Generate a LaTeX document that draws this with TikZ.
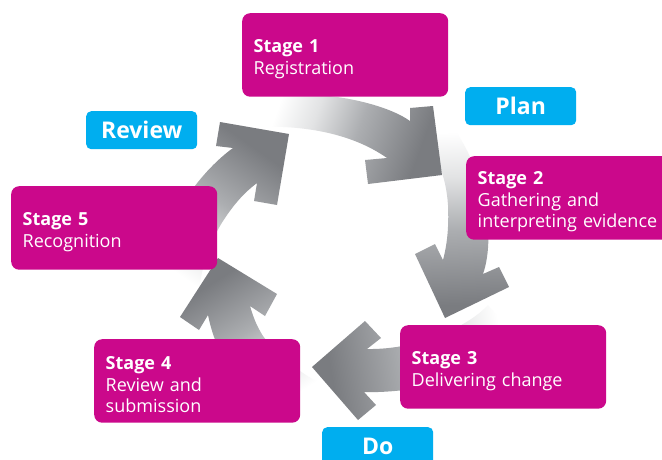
\documentclass[tikz,border=0pt]{standalone}
\usepackage{fontspec}
\setmainfont{Open Sans}
\definecolor{stagemag}{RGB}{203,8,139}
\definecolor{phasecyan}{RGB}{0,174,239}
\definecolor{arrowdark}{RGB}{122,124,128}
\definecolor{arrowmid}{RGB}{172,174,177}
\definecolor{arrowpale}{RGB}{226,227,228}
\pgfdeclarehorizontalshading{ringarrow}{100bp}{color(0bp)=(white); color(26bp)=(white); color(38bp)=(arrowpale); color(52bp)=(arrowmid); color(72bp)=(arrowdark); color(100bp)=(arrowdark)}
\newcommand{\firstline}{\rule{0pt}{21pt}}
\tikzset{
  ringpart/.style={shading=ringarrow},
  stagebox/.style={fill=stagemag, rounded corners=8pt, text=white, anchor=north west,
    minimum width=206pt, minimum height=83.5pt, text width=183pt,
    inner xsep=11.5pt, inner ysep=0pt, align=left,
    font=\fontsize{18}{21.5}\selectfont},
  phasebox/.style={fill=phasecyan, rounded corners=5pt, text=white, anchor=north west,
    minimum width=111pt, minimum height=38pt, inner sep=0pt,
    font=\fontsize{23}{26}\selectfont\bfseries},
}
\begin{document}
\begin{tikzpicture}[x=1pt,y=-1pt]
\useasboundingbox (0,0) rectangle (662,459);
\clip (0,0) rectangle (662,459);
\fill[white] (0,0) rectangle (662,459);

% cycle arrows, each head drawn over the faded tail of the next one
% Stage 5 -> Stage 1
\shade[ringpart, shading angle=55]
  (289,134) -- (220,122) -- (216,146) -- (233,148)
  .. controls (215,161) and (198,180) .. (185,200)
  .. controls (170,225) and (160,255) .. (155,290)
  -- (198,300)
  .. controls (200,270) and (210,240) .. (225,218)
  .. controls (235,203) and (245,192) .. (257,183)
  -- (254,201) -- (277,205) -- cycle;
% Stage 4 -> Stage 5
\shade[ringpart, shading angle=122]
  (218,258) -- (180,317) -- (199,330) -- (208,315)
  .. controls (213,340) and (225,368) .. (245,388)
  .. controls (260,403) and (280,413) .. (300,418)
  -- (318,382)
  .. controls (295,370) and (275,352) .. (263,336)
  .. controls (256,325) and (253,316) .. (250,306)
  -- (265,316) -- (277,294) -- cycle;
% Stage 3 -> Stage 4
\shade[ringpart, shading angle=190]
  (312,367) -- (358,420) -- (376,405) -- (364,392)
  .. controls (390,393) and (440,388) .. (475,372)
  .. controls (492,364) and (505,352) .. (515,337)
  -- (488,305)
  .. controls (470,325) and (420,350) .. (367,349)
  -- (381,338) -- (365,321) -- cycle;
% Stage 2 -> Stage 3
\shade[ringpart, shading angle=-88]
  (445,318) -- (509,287) -- (499,267) -- (483,274)
  .. controls (490,254) and (490,225) .. (484,198)
  .. controls (478,172) and (468,148) .. (452,126)
  -- (418,132)
  .. controls (436,152) and (446,175) .. (448,205)
  .. controls (449,228) and (447,245) .. (443,260)
  -- (435,244) -- (415,254) -- cycle;
% Stage 1 -> Stage 2
\shade[ringpart, shading angle=-20]
  (442,175) -- (433,106) -- (410,108) -- (410,121)
  .. controls (392,108) and (350,95) .. (300,94)
  -- (255,94) -- (255,127)
  .. controls (300,125) and (350,132) .. (387,158)
  -- (365,160) -- (368,184) -- cycle;

% stages
\node[stagebox] (s1) at (242,13) {\firstline\textbf{Stage 1}\\Registration};
\node[stagebox] (s2) at (466,156) {\firstline\textbf{Stage 2}\\Gathering and\\interpreting evidence};
\node[stagebox] (s3) at (400,325) {\firstline\textbf{Stage 3}\\Delivering change};
\node[stagebox] (s4) at (94,339) {\firstline\textbf{Stage 4}\\Review and\\submission};
\node[stagebox] (s5) at (11,186) {\firstline\textbf{Stage 5}\\Recognition};

% phases
\node[phasebox] (plan) at (465,87) {Plan};
\node[phasebox] (do) at (322,427) {Do};
\node[phasebox] (review) at (86,111) {Review};
\end{tikzpicture}
\end{document}
